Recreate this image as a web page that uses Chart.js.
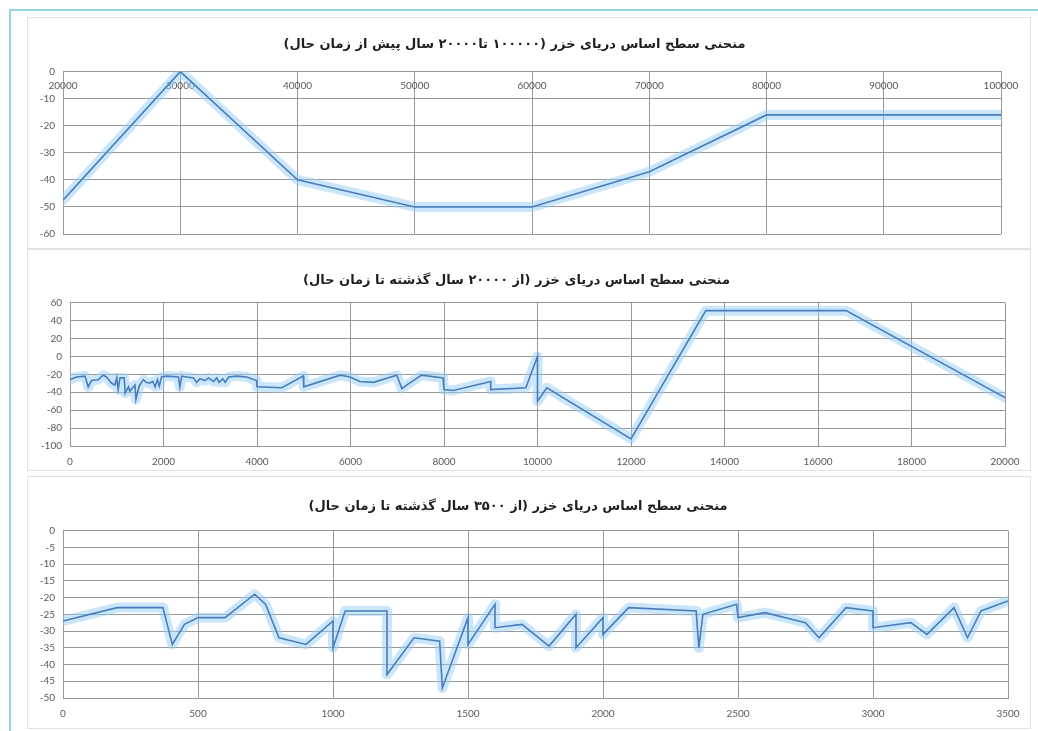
<!DOCTYPE html>
<html lang="fa">
<head>
<meta charset="utf-8">
<script src="https://cdn.jsdelivr.net/npm/chart.js@4.4.1/dist/chart.umd.min.js"></script>
<style>
  body { margin: 0; width: 1038px; height: 731px; background: #fff; position: relative; overflow: hidden; }
  .frame { position: absolute; left: 9px; top: 9px; right: 0; bottom: 0; border-left: 2px solid #93d2e8; border-top: 2px solid #93d2e8; }
  .panel { position: absolute; left: 28px; width: 1002px; outline: 1px solid #e2e2e2; background: #fff; }
  .panel canvas { display: block; }
</style>
</head>
<body>
<div class="frame"></div>
<div class="panel" style="top:18px;height:230px"><canvas id="chart1" width="1002" height="230"></canvas></div>
<div class="panel" style="top:250px;height:220px"><canvas id="chart2" width="1002" height="220"></canvas></div>
<div class="panel" style="top:477px;height:251px"><canvas id="chart3" width="1002" height="251"></canvas></div>
<script>
// نمودار ۱: ۱۰۰۰۰۰ تا ۲۰۰۰۰ سال پیش
const p1Title = 'منحنی سطح اساس دریای خزر (۱۰۰۰۰۰ تا۲۰۰۰۰ سال پیش از زمان حال)';
const p1Years = [20000, 30000, 40000, 50000, 60000, 70000, 80000, 100000];
const p1Levels = [-47.5, 0, -40, -50, -50, -37, -16, -16];

// نمودار ۲: ۲۰۰۰۰ سال گذشته
const p2Title = 'منحنی سطح اساس دریای خزر (از ۲۰۰۰۰ سال گذشته تا زمان حال)';
const p2Years = [0, 140, 320, 390, 460, 600, 710, 780, 890, 960, 1000, 1030, 1070, 1160, 1180, 1250, 1280,
  1390, 1410, 1480, 1570, 1630, 1700, 1770, 1820, 1870, 1910, 1960, 2070, 2320, 2350, 2390, 2500, 2640,
  2710, 2780, 2890, 2960, 3070, 3140, 3190, 3270, 3320, 3390, 3570, 3780, 3990, 4000, 4530, 4990, 5000,
  5780, 5990, 6200, 6490, 6990, 7100, 7200, 7520, 7980, 8000, 8200, 9000, 9000, 9750, 10000, 10000,
  10200, 12000, 13600, 16600, 20000];
const p2Levels = [-26, -23, -22, -34, -27, -26, -21, -23, -30, -32, -24, -37, -24, -24, -41, -34, -39,
  -32, -48, -33, -26, -29, -30, -28, -34, -26, -33, -23, -22, -23, -34, -22, -23, -24,
  -29, -25, -27, -24, -28, -24, -29, -25, -29, -23, -22, -23, -27, -34, -35, -22, -34,
  -21, -23, -28, -29, -21, -36, -32, -21, -24, -37, -38, -28, -37, -35, 0, -50,
  -35, -92, 51, 51, -46];

// نمودار ۳: ۳۵۰۰ سال گذشته
const p3Title = 'منحنی سطح اساس دریای خزر (از ۳۵۰۰ سال گذشته تا زمان حال)';
const p3Years = [0, 200, 370, 405, 450, 500, 600, 710, 750, 800, 900, 1000, 1000, 1045, 1200, 1200, 1300,
  1395, 1405, 1500, 1500, 1600, 1600, 1700, 1800, 1900, 1900, 2000, 2000, 2095, 2345, 2355, 2370, 2495,
  2500, 2600, 2750, 2800, 2900, 3000, 3000, 3140, 3200, 3300, 3350, 3400, 3500];
const p3Levels = [-27, -23, -23, -34, -28, -26, -26, -19, -22, -32, -34, -27, -35, -24, -24, -43, -32,
  -33, -47, -26, -34, -22, -29, -28, -34.5, -25, -35, -26, -31, -23, -24, -35, -25, -22,
  -26, -24.5, -27.5, -32, -23, -24, -29, -27.5, -31, -23, -32, -24, -21];

const gridColor = '#989898';
const tickFont = { family: 'Lato, "Liberation Sans", sans-serif', size: 10 };

// ساخت یک نمودار خطی
function makeChart(id, title, years, levels, o) {
  const points = years.map((x, i) => ({ x: x, y: levels[i] }));
  return new Chart(document.getElementById(id), {
    type: 'line',
    data: {
      datasets: [
        { data: points, borderColor: '#4a7dbd', borderWidth: 1.6, pointRadius: 0, tension: 0 },
        // هاله آبی روشن پشت خط
        { data: points, borderColor: 'rgba(150,205,245,0.5)', borderWidth: 10, pointRadius: 0, tension: 0,
          borderJoinStyle: 'round', borderCapStyle: 'round' }
      ]
    },
    options: {
      responsive: false,
      animation: false,
      layout: { padding: o.pad },
      plugins: {
        legend: { display: false },
        tooltip: { enabled: false },
        title: {
          display: true,
          text: '\u202B' + title + '\u202C',
          color: '#1f1f1f',
          font: { family: '"DejaVu Sans", sans-serif', size: 13, weight: 'bold' },
          padding: o.titlePad
        }
      },
      scales: {
        x: {
          type: 'linear',
          position: o.xPos,
          min: o.xMin, max: o.xMax,
          ticks: { stepSize: o.xStep, autoSkip: false, maxRotation: 0, color: '#595959', font: tickFont,
            padding: o.xPadding, callback: v => String(v) },
          grid: { color: gridColor, drawTicks: false },
          border: { color: gridColor },
          afterFit: s => { if (o.xHeight) s.height = o.xHeight; }
        },
        y: {
          min: o.yMin, max: o.yMax,
          ticks: { stepSize: o.yStep, autoSkip: false, color: '#595959', font: tickFont, padding: 8,
            callback: v => String(v) },
          grid: { color: gridColor, drawTicks: false },
          border: { color: gridColor },
          afterFit: s => { s.width = o.yWidth; }
        }
      }
    }
  });
}

makeChart('chart1', p1Title, p1Years, p1Levels, {
  pad: { left: 0, right: 29, top: 0, bottom: 14 }, titlePad: { top: 19, bottom: 19 },
  xPos: { y: 0 }, xMin: 20000, xMax: 100000, xStep: 10000, xPadding: 8,
  yMin: -60, yMax: 0, yStep: 10, yWidth: 35
});

makeChart('chart2', p2Title, p2Years, p2Levels, {
  pad: { left: 0, right: 25, top: 0, bottom: 0 }, titlePad: { top: 23, bottom: 14 },
  xPos: 'bottom', xMin: 0, xMax: 20000, xStep: 2000, xPadding: 10, xHeight: 24,
  yMin: -100, yMax: 60, yStep: 20, yWidth: 42
});

makeChart('chart3', p3Title, p3Years, p3Levels, {
  pad: { left: 0, right: 22, top: 0, bottom: 0 }, titlePad: { top: 22, bottom: 16 },
  xPos: 'bottom', xMin: 0, xMax: 3500, xStep: 500, xPadding: 10, xHeight: 30,
  yMin: -50, yMax: 0, yStep: 5, yWidth: 35
});
</script>
</body>
</html>
